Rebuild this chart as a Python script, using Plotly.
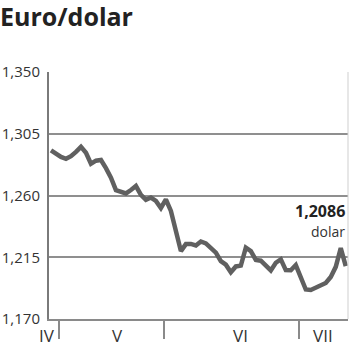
import plotly.graph_objects as go

# trading-day index and EUR/USD values
day = list(range(60))
rate = [1.2929, 1.2900, 1.2881, 1.2867, 1.2886, 1.2918, 1.2954, 1.2911, 1.2832, 1.2854,
        1.2859, 1.2799, 1.2730, 1.2639, 1.2628, 1.2615, 1.2640, 1.2669, 1.2604, 1.2568,
        1.2585, 1.2561, 1.2509, 1.2571, 1.2488, 1.2341, 1.2195, 1.2246, 1.2247, 1.2236,
        1.2265, 1.2251, 1.2222, 1.2184, 1.2122, 1.2096, 1.2041, 1.2083, 1.2089, 1.2220,
        1.2195, 1.2131, 1.2125, 1.2086, 1.2054, 1.2110, 1.2135, 1.2056, 1.2055, 1.2093,
        1.1997, 1.1915, 1.1911, 1.1929, 1.1945, 1.1962, 1.2006, 1.2080, 1.2217, 1.2086]

month_bounds = [1.6, 22.6, 49.7]
month_labels = ["V", "VI", "VII"]
month_label_pos = [13.3, 38.0, 54.4]
first_month_label = "IV"

y_ticks = [1.170, 1.215, 1.260, 1.305, 1.350]
y_tick_text = ["1,170", "1,215", "1,260", "1,305", "1,350"]

last_label = "1,2086"
unit_label = "dolar"

FONT = "Open Sans"

fig = go.Figure()
fig.add_trace(go.Scatter(x=day, y=rate, mode="lines",
                         line=dict(color="#606060", width=4.5), hoverinfo="skip"))

fig.update_layout(
    width=350, height=351,
    margin=dict(l=47, r=2, t=72, b=32),
    paper_bgcolor="white", plot_bgcolor="white",
    showlegend=False,
    font=dict(family=FONT, color="#333"),
    title=dict(text="<b>Euro/dolar</b>", x=0.0, xref="container", xanchor="left",
               y=0.95, yref="container", yanchor="middle", pad=dict(l=0, t=0),
               font=dict(family=FONT, size=25, color="#222")),
    xaxis=dict(range=[-0.4, 59.45], showgrid=False, zeroline=False,
               showline=True, linecolor="#8a8a8a", linewidth=2,
               tickmode="array", tickvals=month_bounds, ticks="outside",
               ticklen=18, tickwidth=2, tickcolor="#8a8a8a",
               showticklabels=False, fixedrange=True),
    yaxis=dict(range=[1.17, 1.35], tickmode="array", tickvals=y_ticks,
               ticktext=y_tick_text, showgrid=True, gridcolor="#8f8f8f", gridwidth=1.5,
               zeroline=False, showline=True, linecolor="#7a7a7a", linewidth=2,
               ticks="", ticklabelstandoff=4,
               tickfont=dict(family=FONT, size=15, color="#333"), fixedrange=True),
)

# light right border
fig.add_shape(type="line", xref="paper", yref="paper", x0=1, x1=1, y0=0, y1=1,
              line=dict(color="#cfcfcf", width=1))

for lab, pos in zip(month_labels, month_label_pos):
    fig.add_annotation(x=pos, y=0, xref="x", yref="paper", text=lab, showarrow=False,
                       yanchor="top", yshift=-3, font=dict(family=FONT, size=17, color="#333"))
fig.add_annotation(x=month_bounds[0], y=0, xref="x", yref="paper", text=first_month_label,
                   showarrow=False, xanchor="right", yanchor="top", xshift=-2, yshift=-3,
                   font=dict(family=FONT, size=17, color="#333"))

fig.add_annotation(x=day[-1], y=rate[-1], xref="x", yref="y", text="<b>" + last_label + "</b>",
                   showarrow=False, xanchor="right", yanchor="bottom", xshift=1, yshift=42,
                   font=dict(family=FONT, size=16, color="#222"))
fig.add_annotation(x=day[-1], y=rate[-1], xref="x", yref="y", text=unit_label,
                   showarrow=False, xanchor="right", yanchor="bottom", xshift=1, yshift=23,
                   font=dict(family=FONT, size=14, color="#333"))

fig.write_html("out.html")
